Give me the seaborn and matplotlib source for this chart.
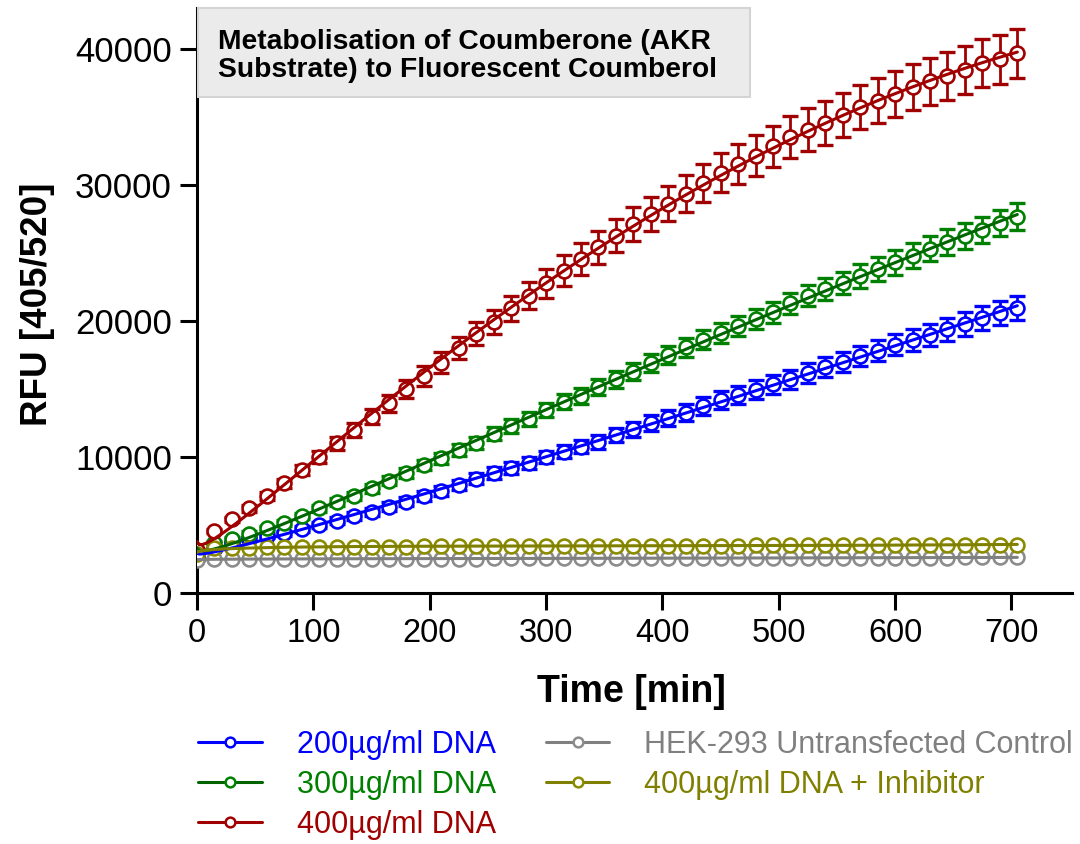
#!/usr/bin/env python3
#===============================================================================
# coumberone_rfu.py
#===============================================================================

# Imports ======================================================================

import numpy as np
import pandas as pd
import seaborn as sns
import matplotlib
matplotlib.use('Agg')
import matplotlib.pyplot as plt
from matplotlib.lines import Line2D
from matplotlib.patches import Rectangle


# Data =========================================================================

time_min = [
    0, 15, 30, 45, 60, 75, 90, 105,
    120, 135, 150, 165, 180, 195, 210, 225,
    240, 255, 270, 285, 300, 315, 330, 345,
    360, 375, 390, 405, 420, 435, 450, 465,
    480, 495, 510, 525, 540, 555, 570, 585,
    600, 615, 630, 645, 660, 675, 690, 705,
]

rfu_200 = [
    2550, 3200, 3650, 3950, 4190, 4390, 4680, 5000,
    5320, 5660, 5980, 6350, 6710, 7130, 7520, 7940,
    8400, 8820, 9170, 9540, 9980, 10390, 10760, 11130,
    11620, 12040, 12480, 12850, 13260, 13750, 14190, 14560,
    14930, 15360, 15710, 16150, 16640, 17010, 17430, 17820,
    18240, 18600, 18970, 19390, 19780, 20200, 20570, 20930,
]
err_200 = [
    100, 120, 140, 160, 180, 200, 220, 240,
    260, 280, 300, 320, 340, 360, 380, 400,
    410, 420, 430, 440, 450, 470, 490, 510,
    530, 550, 570, 590, 610, 630, 650, 670,
    690, 700, 710, 720, 730, 740, 750, 760,
    780, 800, 820, 840, 860, 870, 885, 900,
]

rfu_300 = [
    2850, 3650, 3950, 4340, 4750, 5170, 5660, 6230,
    6670, 7130, 7700, 8260, 8800, 9410, 9900, 10510,
    11050, 11700, 12280, 12770, 13460, 14070, 14490, 15120,
    15710, 16270, 16890, 17500, 18070, 18600, 19100, 19620,
    20140, 20630, 21300, 21850, 22350, 22800, 23300, 23800,
    24300, 24800, 25300, 25800, 26250, 26700, 27200, 27650,
]
err_300 = [
    120, 150, 170, 190, 210, 230, 250, 270,
    290, 310, 330, 350, 370, 390, 410, 430,
    450, 470, 490, 510, 530, 550, 570, 590,
    610, 630, 650, 670, 690, 700, 710, 720,
    735, 750, 770, 790, 810, 830, 850, 870,
    890, 910, 930, 950, 960, 970, 985, 1000,
]

rfu_400 = [
    3160, 4560, 5420, 6230, 7130, 8060, 9040, 10020,
    11000, 11990, 12960, 13950, 14980, 15960, 16940, 17990,
    19050, 19950, 20930, 21840, 22770, 23700, 24540, 25400,
    26260, 27100, 27860, 28620, 29360, 30120, 30880, 31500,
    32130, 32820, 33510, 34040, 34540, 35150, 35710, 36200,
    36690, 37180, 37600, 38010, 38460, 38950, 39240, 39680,
]
err_400 = [
    100, 150, 200, 250, 300, 350, 400, 430,
    470, 520, 560, 610, 670, 720, 760, 800,
    840, 880, 930, 1000, 1080, 1120, 1160, 1200,
    1230, 1260, 1280, 1310, 1350, 1390, 1430, 1470,
    1500, 1530, 1550, 1580, 1600, 1620, 1640, 1660,
    1680, 1700, 1720, 1740, 1760, 1780, 1800, 1810,
]

rfu_control = [
    2450, 2480, 2490, 2500, 2500, 2500, 2510, 2510,
    2510, 2520, 2520, 2520, 2520, 2530, 2530, 2530,
    2530, 2540, 2540, 2540, 2540, 2550, 2550, 2550,
    2550, 2560, 2560, 2560, 2560, 2570, 2570, 2570,
    2570, 2580, 2580, 2580, 2580, 2590, 2590, 2590,
    2590, 2600, 2600, 2600, 2610, 2610, 2610, 2620,
]

rfu_inhibitor = [
    2900, 3280, 3320, 3340, 3350, 3360, 3370, 3380,
    3390, 3400, 3400, 3410, 3410, 3420, 3420, 3430,
    3430, 3440, 3440, 3440, 3450, 3450, 3460, 3460,
    3460, 3470, 3470, 3480, 3480, 3480, 3490, 3490,
    3500, 3500, 3500, 3510, 3510, 3510, 3520, 3520,
    3520, 3530, 3530, 3530, 3540, 3540, 3540, 3550,
]

labels = [
    '200µg/ml DNA',
    '300µg/ml DNA',
    '400µg/ml DNA',
    'HEK-293 Untransfected Control',
    '400µg/ml DNA + Inhibitor',
]
series = [rfu_200, rfu_300, rfu_400, rfu_control, rfu_inhibitor]
errors = [err_200, err_300, err_400, None, None]

marker_colors = ['#0000FF', '#008000', '#A00000', '#8C8C8C', '#8B8B00']
line_colors = ['#0000FF', '#006400', '#A00000', '#808080', '#808000']
text_colors = ['#0000FF', '#008000', '#A00000', '#808080', '#808000']


# Functions ====================================================================

def fit_curve(t, y, t_new):
    # least-squares smooth fit through the measured points
    def basis(x):
        return np.column_stack([np.ones_like(x), np.sqrt(x), x, x ** 2])
    t = np.asarray(t, dtype=float)
    coef, *_ = np.linalg.lstsq(basis(t), np.asarray(y, dtype=float), rcond=None)
    return basis(t_new) @ coef


def main():
    sns.set_theme(style='ticks')
    plt.rcParams['font.family'] = ['Liberation Sans', 'DejaVu Sans']
    plt.rcParams.update({
        'text.color': 'black', 'axes.labelcolor': 'black',
        'xtick.color': 'black', 'ytick.color': 'black',
    })

    fig = plt.figure(figsize=(10.8, 8.44), dpi=100)
    ax = fig.add_axes([197 / 1080, 1 - 593 / 844, 875 / 1080, 585 / 844])

    # points with error bars (white filled circles)
    for vals, err, mc in zip(series, errors, marker_colors):
        if err is not None:
            ax.errorbar(time_min, vals, yerr=err, fmt='none', ecolor=mc,
                        elinewidth=2.0, capsize=5.5, capthick=2.4, zorder=2)
        ax.plot(time_min, vals, ls='none', marker='o', ms=10, mfc='white',
                mec=mc, mew=1.9, zorder=3)

    # fitted curves
    t_fine = np.linspace(0, 705, 400)
    fits = pd.concat([
        pd.DataFrame({'time': t_fine, 'rfu': fit_curve(time_min, vals, t_fine),
                      'series': lab})
        for vals, lab in zip(series, labels)
    ])
    sns.lineplot(data=fits, x='time', y='rfu', hue='series', hue_order=labels,
                 palette=dict(zip(labels, line_colors)), errorbar=None,
                 legend=False, linewidth=2.2, ax=ax, zorder=4)

    ax.set_xlim(0, 752)
    ax.set_ylim(0, 43000)
    ax.set_xticks(range(0, 701, 100))
    ax.set_yticks(range(0, 40001, 10000))
    sns.despine(ax=ax)
    for side in ('left', 'bottom'):
        ax.spines[side].set_linewidth(2.2)
        ax.spines[side].set_color('black')
    ax.tick_params(axis='both', length=12, width=2.2, color='black',
                   labelcolor='black', direction='out', pad=6)
    ax.tick_params(axis='x', labelsize=23.5)
    ax.tick_params(axis='y', labelsize=25)

    ax.set_xlabel('Time [min]', fontsize=27, fontweight='bold', color='black')
    ax.xaxis.set_label_coords(0.497, -0.138)
    ax.set_ylabel('RFU [405/520]', fontsize=26.5, fontweight='bold',
                  color='black')
    ax.yaxis.set_label_coords(-0.162, 0.494)

    # title box
    fig.add_artist(Rectangle((198 / 1080, 1 - 97 / 844), 552 / 1080, 89 / 844,
                             transform=fig.transFigure, facecolor='#EBEBEB',
                             edgecolor='#D4D4D4', linewidth=1.5, zorder=5))
    fig.text(218 / 1080, 1 - 56 / 844,
             'Metabolisation of Coumberone (AKR\nSubstrate) to Fluorescent Coumberol',
             fontsize=20.3, fontweight='bold', ha='left', va='center',
             linespacing=1.12, color='black', zorder=6)

    # legend
    handles = [
        Line2D([], [], color=lc, lw=2.2, marker='o', ms=7, mfc='white',
               mec=mc, mew=1.8)
        for lc, mc in zip(line_colors, marker_colors)
    ]
    leg = fig.legend(handles, labels, loc='upper left',
                     bbox_to_anchor=(198 / 1080, 1 - 730 / 844), ncol=2,
                     frameon=False, fontsize=22, handlelength=2.09,
                     handletextpad=1.14, columnspacing=1.63, labelspacing=0.33,
                     borderpad=0, borderaxespad=0)
    for text, c in zip(leg.get_texts(), text_colors):
        text.set_color(c)

    fig.savefig('out.png', dpi=100)


# Execute ======================================================================

if __name__ == '__main__':
    main()
